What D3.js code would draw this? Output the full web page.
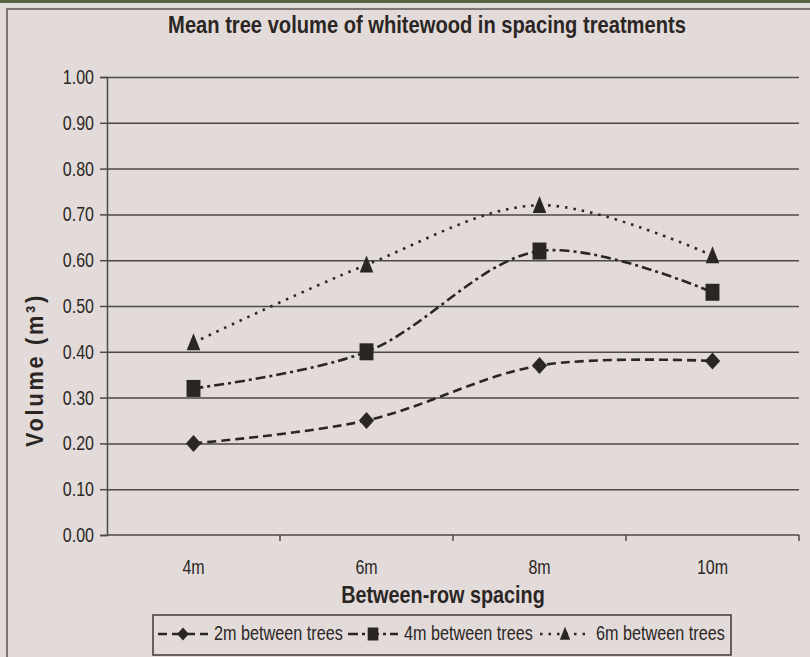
<!DOCTYPE html>
<html>
<head>
<meta charset="utf-8">
<script src="https://cdn.jsdelivr.net/npm/d3@7"></script>
<style>
  html, body { margin: 0; padding: 0; background: #e2dbda; }
  svg { display: block; font-family: "Liberation Sans", Arial, sans-serif; }
</style>
</head>
<body>
<div id="app"></div>
<script>
const categories = ["4m", "6m", "8m", "10m"];
const yTicks = [0, 0.1, 0.2, 0.3, 0.4, 0.5, 0.6, 0.7, 0.8, 0.9, 1.0];
const seriesNames = ["2m between trees", "4m between trees", "6m between trees"];
const trees2m = [0.20, 0.25, 0.37, 0.38];
const trees4m = [0.32, 0.40, 0.62, 0.53];
const trees6m = [0.42, 0.59, 0.72, 0.61];

const W = 810, H = 657;
const ink = "#2b2624";
const grid = "#4d4947";

const svg = d3.select("#app").append("svg").attr("width", W).attr("height", H);

// no narrow font installed, so squeeze the regular one like Arial Narrow
const narrow = (sel, f = 0.82) => sel.each(function () {
  const len = this.getComputedTextLength();
  d3.select(this).attr("textLength", len * f).attr("lengthAdjust", "spacingAndGlyphs");
});

// green strip at top and the chart frame
svg.append("rect").attr("x", 0).attr("y", 0).attr("width", W).attr("height", 3).attr("fill", "#56643f");
svg.append("path")
  .attr("d", `M7,${H} L7,9 L${W},9`)
  .attr("fill", "none").attr("stroke", "#5a5654").attr("stroke-width", 1.5);

const plot = { left: 107, right: 799, top: 77, bottom: 535 };

const x = d3.scaleBand().domain(categories).range([plot.left, plot.right]);
const y = d3.scaleLinear().domain([0, 1]).range([plot.bottom, plot.top]);

// gridlines
svg.append("g")
  .attr("transform", `translate(${plot.left},0)`)
  .call(d3.axisLeft(y).tickValues(yTicks.slice(1)).tickSize(-(plot.right - plot.left)).tickFormat(""))
  .call(g => g.select(".domain").remove())
  .call(g => g.selectAll("line").attr("stroke", grid).attr("stroke-width", 1.5));

// y axis
svg.append("g")
  .attr("transform", `translate(${plot.left},0)`)
  .call(d3.axisLeft(y).tickValues(yTicks).tickSize(7).tickPadding(6).tickFormat(d3.format(".2f")))
  .call(g => g.select(".domain").attr("stroke", grid).attr("stroke-width", 1.5))
  .call(g => g.selectAll("line").attr("stroke", grid).attr("stroke-width", 1.5))
  .call(g => g.selectAll("text").attr("fill", ink).attr("font-size", 20)
    .attr("font-family", null).call(narrow, 0.8));

// x axis: labels at band centres, ticks at band edges
const xAxis = svg.append("g").attr("transform", `translate(0,${plot.bottom})`);
xAxis.call(d3.axisBottom(x).tickSize(0).tickPadding(25))
  .call(g => g.select(".domain").attr("stroke", grid).attr("stroke-width", 1.5)
    .attr("d", `M${plot.left},0H${plot.right}`))
  .call(g => g.selectAll("text").attr("fill", ink).attr("font-size", 20)
    .attr("font-family", null).call(narrow, 0.8));
const edges = categories.slice(1).map(c => x(c)).concat([plot.right]);
xAxis.selectAll("line.edge").data(edges).enter().append("line")
  .attr("class", "edge")
  .attr("x1", d => d).attr("x2", d => d).attr("y1", 0).attr("y2", 6)
  .attr("stroke", grid).attr("stroke-width", 1.5);

// titles
svg.append("text")
  .attr("x", 427).attr("y", 33)
  .attr("text-anchor", "middle").attr("font-weight", "bold").attr("font-size", 23)
  .attr("fill", ink)
  .text("Mean tree volume of whitewood in spacing treatments")
  .call(narrow, 0.875);

svg.append("text")
  .attr("x", 443).attr("y", 603)
  .attr("text-anchor", "middle").attr("font-weight", "bold").attr("font-size", 24)
  .attr("fill", ink)
  .text("Between-row spacing")
  .call(narrow, 0.825);

svg.append("text")
  .attr("transform", "translate(43,370) rotate(-90)")
  .attr("text-anchor", "middle").attr("font-weight", "bold").attr("font-size", 24)
  .attr("letter-spacing", 3)
  .attr("fill", ink)
  .text("Volume (m³)")
  .attr("textLength", 154).attr("lengthAdjust", "spacingAndGlyphs");

// series
const series = [
  { name: seriesNames[0], values: trees2m, dash: "9,5", shape: "diamond" },
  { name: seriesNames[1], values: trees4m, dash: "10,4,3,4", shape: "square" },
  { name: seriesNames[2], values: trees6m, dash: "2.5,6", shape: "triangle" }
];

const cx = c => x(c) + x.bandwidth() / 2;
const line = d3.line()
  .x((d, i) => cx(categories[i]))
  .y(d => y(d))
  .curve(d3.curveCatmullRom.alpha(0.5));

const markerPath = (shape, s) => {
  if (shape === "diamond") return `M0,${-s}L${s * 0.9},0L0,${s}L${-s * 0.9},0Z`;
  if (shape === "square") return `M${-s * 0.82},${-s}H${s * 0.82}V${s}H${-s * 0.82}Z`;
  return `M0,${-s * 1.1}L${s * 0.8},${s * 0.9}H${-s * 0.8}Z`;
};

series.forEach(s => {
  svg.append("path")
    .datum(s.values)
    .attr("d", line)
    .attr("fill", "none")
    .attr("stroke", ink)
    .attr("stroke-width", 2.6)
    .attr("stroke-dasharray", s.dash);
  svg.selectAll(null).data(s.values).enter().append("path")
    .attr("transform", (d, i) => `translate(${cx(categories[i])},${y(d)})`)
    .attr("d", markerPath(s.shape, 8.5))
    .attr("fill", ink);
});

// legend
const legend = svg.append("g");
legend.append("rect")
  .attr("x", 153).attr("y", 615).attr("width", 578).attr("height", 40)
  .attr("fill", "none").attr("stroke", "#3d3937").attr("stroke-width", 1.5);
const legendX = [158, 348, 540];
series.forEach((s, i) => {
  const x0 = legendX[i];
  legend.append("line")
    .attr("x1", x0).attr("x2", x0 + 50).attr("y1", 634).attr("y2", 634)
    .attr("stroke", ink).attr("stroke-width", 2.6).attr("stroke-dasharray", s.dash);
  legend.append("path")
    .attr("transform", `translate(${x0 + 25},634)`)
    .attr("d", markerPath(s.shape, 6.5))
    .attr("fill", ink);
  legend.append("text")
    .attr("x", x0 + 56).attr("y", 640)
    .attr("font-size", 20).attr("fill", ink)
    .text(s.name)
    .call(narrow, 0.81);
});
</script>
</body>
</html>
